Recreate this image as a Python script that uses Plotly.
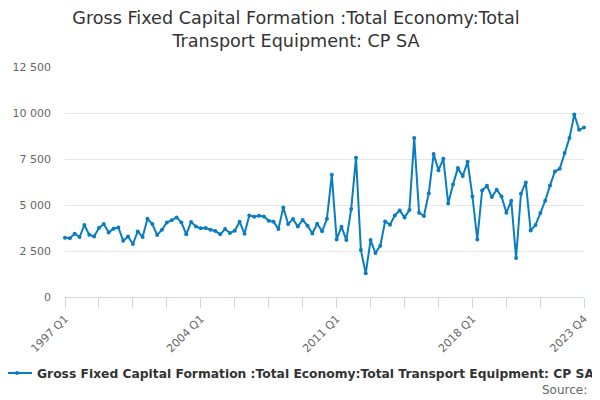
import plotly.graph_objects as go

# Quarterly values, 1997 Q1 .. 2023 Q4
years = list(range(1997, 2024))
quarters = [f"{y} Q{q}" for y in years for q in range(1, 5)]
values = [
    3220, 3190, 3440, 3260, 3910, 3385, 3290, 3750, 3965, 3510,
    3710, 3780, 3060, 3290, 2880, 3565, 3260, 4250, 3965, 3370,
    3655, 4055, 4165, 4325, 4055, 3405, 4075, 3835, 3730, 3745,
    3655, 3585, 3405, 3690, 3475, 3600, 4090, 3440, 4435, 4360,
    4415, 4380, 4145, 4090, 3690, 4870, 3965, 4235, 3835, 4180,
    3875, 3455, 3980, 3570, 4250, 6640, 3130, 3820, 3095, 4780,
    7565, 2550, 1285, 3095, 2390, 2785, 4110, 3930, 4435, 4705,
    4325, 4725, 8635, 4580, 4400, 5645, 7765, 6895, 7510, 5085,
    6120, 7005, 6570, 7350, 5465, 3130, 5790, 6045, 5430, 5830,
    5465, 4580, 5230, 2120, 5610, 6225, 3620, 3910, 4560, 5230,
    6065, 6825, 6970, 7820, 8635, 9920, 9085, 9215,
]
series_name = "Gross Fixed Capital Formation :Total Economy:Total Transport Equipment: CP SA"

# tick marks every 7 quarters, labels every 28, plus the last quarter
tick_idx = list(range(0, 99, 7)) + [len(quarters) - 1]
tick_text = [quarters[i] if (i % 28 == 0 or i == len(quarters) - 1) else "" for i in tick_idx]

x = list(range(len(quarters)))

fig = go.Figure()
fig.add_trace(go.Scatter(
    x=x,
    y=values,
    name=series_name,
    mode="lines+markers",
    line=dict(color="#0a7dc2", width=2),
    marker=dict(size=4, color="#0a7dc2"),
    cliponaxis=False,
))

# the page body adds an 8px margin, so the figure is 8px smaller than the window
fig.update_layout(
    width=592,
    height=392,
    font=dict(family="DejaVu Sans", color="#333333"),
    title=dict(
        text="Gross Fixed Capital Formation :Total Economy:Total<br>Transport Equipment: CP SA",
        x=0.4865, xanchor="center", y=0.959, yanchor="top",
        font=dict(size=17.6, color="#333333"),
    ),
    paper_bgcolor="white",
    plot_bgcolor="white",
    margin=dict(l=57, r=16, t=59, b=103),
    separators=". ",
    showlegend=True,
    legend=dict(
        orientation="h",
        xref="paper", x=-0.146, xanchor="left",
        yref="container", y=0.069, yanchor="middle",
        itemwidth=30,
        font=dict(size=12.3, color="#333333", weight="bold"),
    ),
    annotations=[dict(
        text="Source:",
        x=1.01, xref="paper", xanchor="right",
        y=-0.404, yref="paper", yanchor="middle",
        showarrow=False,
        font=dict(size=12, color="#666666"),
    )],
)

fig.update_xaxes(
    range=[0, len(quarters) - 1],
    tickmode="array",
    tickvals=tick_idx,
    ticktext=tick_text,
    tickangle=-45,
    ticks="outside",
    ticklen=10,
    tickcolor="#ccd6eb",
    showline=True,
    linecolor="#ccd6eb",
    showgrid=False,
    zeroline=False,
    automargin=False,
    tickfont=dict(size=11, color="#666666"),
)
fig.update_yaxes(
    range=[0, 12500],
    dtick=2500,
    tickformat=",d",
    gridcolor="#e6e6e6",
    zeroline=False,
    showline=False,
    ticks="",
    ticklabelstandoff=13,
    automargin=False,
    tickfont=dict(size=11, color="#666666"),
)

fig.write_html("out.html")
